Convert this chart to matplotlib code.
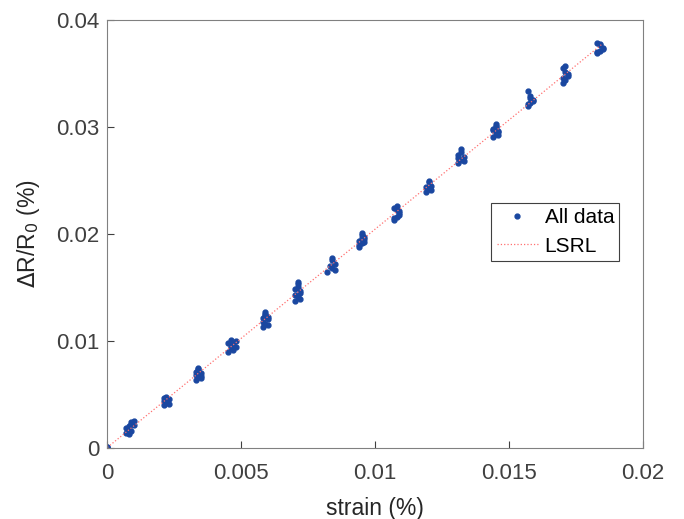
import numpy as np
import matplotlib
matplotlib.use("Agg")
from matplotlib import pyplot as plt

plt.rcParams['font.family'] = ['Liberation Sans', 'DejaVu Sans']

# strain (%) and dR/R0 (%) for each loading step
strain = [
    0, 0, 0, 0, 0, 0,
    0.0007, 0.0008, 0.0009, 0.0010, 0.0008, 0.0009, 0.0007, 0.0010, 0.0009, 0.0008,
    0.0021, 0.0022, 0.0023, 0.0022, 0.0021, 0.0023, 0.0022, 0.0021,
    0.0033, 0.0034, 0.0035, 0.0034, 0.0033, 0.0035, 0.0034, 0.0033, 0.0035, 0.0034,
    0.0045, 0.0046, 0.0047, 0.0048, 0.0046, 0.0047, 0.0045, 0.0048, 0.0046, 0.0047,
    0.0058, 0.0059, 0.0060, 0.0059, 0.0058, 0.0060, 0.0059, 0.0058, 0.0060, 0.0059,
    0.0070, 0.0071, 0.0072, 0.0071, 0.0070, 0.0072, 0.0071, 0.0070, 0.0071, 0.0072,
    0.0082, 0.0084, 0.0085, 0.0084, 0.0083, 0.0085, 0.0084,
    0.0094, 0.0095, 0.0096, 0.0095, 0.0094, 0.0096, 0.0095, 0.0094, 0.0096, 0.0095,
    0.0107, 0.0108, 0.0109, 0.0108, 0.0107, 0.0109, 0.0108, 0.0107, 0.0109,
    0.0119, 0.0120, 0.0121, 0.0120, 0.0119, 0.0121, 0.0120,
    0.0131, 0.0132, 0.0133, 0.0132, 0.0131, 0.0133, 0.0132, 0.0131,
    0.0144, 0.0145, 0.0146, 0.0145, 0.0144, 0.0146, 0.0145, 0.0144, 0.0146, 0.0145,
    0.0157, 0.0158, 0.0159, 0.0158, 0.0157, 0.0159, 0.0158, 0.0157,
    0.0170, 0.0171, 0.0172, 0.0171, 0.0170, 0.0172, 0.0171, 0.0170,
    0.0183, 0.0184, 0.0185, 0.0184, 0.0183, 0.0185, 0.0184, 0.0183,
]
dR = [
    0, 0.00005, 0, 0.0001, 0.00002, 0.00003,
    0.0014, 0.0018, 0.0022, 0.0025, 0.0020, 0.0016, 0.0019, 0.0021, 0.0024, 0.0013,
    0.0040, 0.0043, 0.0046, 0.0048, 0.0044, 0.0041, 0.0045, 0.0047,
    0.0063, 0.0066, 0.0070, 0.0074, 0.0068, 0.0065, 0.0072, 0.0071, 0.0067, 0.0075,
    0.0090, 0.0093, 0.0097, 0.0100, 0.0095, 0.0091, 0.0098, 0.0094, 0.0101, 0.0096,
    0.0113, 0.0116, 0.0120, 0.0124, 0.0118, 0.0122, 0.0127, 0.0121, 0.0115, 0.0125,
    0.0137, 0.0141, 0.0145, 0.0150, 0.0148, 0.0139, 0.0153, 0.0143, 0.0155, 0.0147,
    0.0164, 0.0168, 0.0172, 0.0176, 0.0170, 0.0166, 0.0177,
    0.0188, 0.0191, 0.0195, 0.0199, 0.0193, 0.0197, 0.0201, 0.0190, 0.0192, 0.0196,
    0.0213, 0.0216, 0.0219, 0.0222, 0.0224, 0.0218, 0.0226, 0.0215, 0.0221,
    0.0239, 0.0242, 0.0245, 0.0248, 0.0244, 0.0241, 0.0249,
    0.0266, 0.0269, 0.0272, 0.0276, 0.0274, 0.0268, 0.0279, 0.0271,
    0.0290, 0.0293, 0.0296, 0.0300, 0.0298, 0.0295, 0.0303, 0.0297, 0.0292, 0.0301,
    0.0319, 0.0322, 0.0325, 0.0329, 0.0333, 0.0324, 0.0327, 0.0321,
    0.0341, 0.0344, 0.0347, 0.0351, 0.0355, 0.0349, 0.0357, 0.0346,
    0.0369, 0.0371, 0.0373, 0.0376, 0.0378, 0.0374, 0.0377, 0.0370,
]

x = np.array(strain)
y = np.array(dR)
k, b = np.polyfit(x, y, 1)
xf = np.array([0, x.max()])

fig = plt.figure(figsize=(6.84, 5.19), dpi=100)
ax = fig.add_axes([0.157, 0.137, 0.783, 0.825])
ax.plot(x, y, '.', color='#1a47a0', markersize=7, label='All data')
ax.plot(xf, k * xf + b, ':', color='#ff7070', lw=0.9, label='LSRL')

ax.set_xlim(0, 0.02)
ax.set_ylim(0, 0.04)
ax.set_xticks([0, 0.005, 0.01, 0.015, 0.02])
ax.set_xticklabels(['0', '0.005', '0.01', '0.015', '0.02'])
ax.set_yticks([0, 0.01, 0.02, 0.03, 0.04])
ax.set_yticklabels(['0', '0.01', '0.02', '0.03', '0.04'])
ax.tick_params(direction='in', length=5, labelsize=16, colors='#404040')
ax.tick_params(axis='x', pad=11)
ax.tick_params(axis='y', pad=6)
for s in ax.spines.values():
    s.set_color('#808080')
ax.set_xlabel('strain (%)', fontsize=16.5, color='#262626', labelpad=9)
ax.set_ylabel(r'$\Delta$R/R$_0$ (%)', fontsize=16.5, color='#262626', labelpad=10)

leg = ax.legend(loc='upper left', bbox_to_anchor=(0.717, 0.572), fontsize=15,
                fancybox=False, framealpha=1, edgecolor='#404040',
                handlelength=2.0, borderpad=0.25, labelspacing=0.45,
                handletextpad=0.3, borderaxespad=0)
leg.get_frame().set_linewidth(0.8)

fig.savefig('out.png', dpi=100)
